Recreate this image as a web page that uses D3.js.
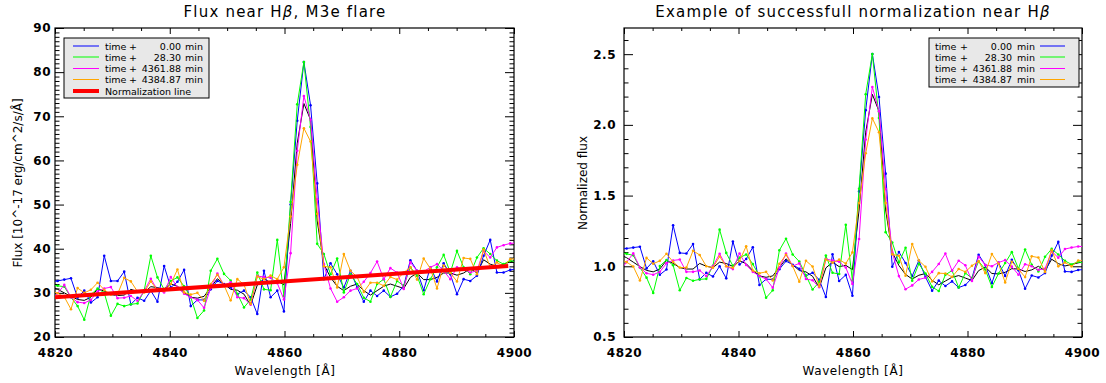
<!DOCTYPE html>
<html>
<head>
<meta charset="utf-8">
<script src="https://cdn.jsdelivr.net/npm/d3@7"></script>
<style>
  body { margin: 0; background: #fff; }
  svg text { font-family: "DejaVu Sans", sans-serif; fill: #000; }
</style>
</head>
<body>
<div id="chart"></div>
<script>
// wavelength grid of the spectra (Angstrom)
const wavelength = [
  4819.30, 4820.46, 4821.62, 4822.78, 4823.94, 4825.10, 4826.26, 4827.42, 4828.58, 4829.74,
  4830.90, 4832.06, 4833.22, 4834.38, 4835.54, 4836.70, 4837.86, 4839.02, 4840.18, 4841.34,
  4842.50, 4843.66, 4844.82, 4845.98, 4847.14, 4848.30, 4849.46, 4850.62, 4851.78, 4852.94,
  4854.10, 4855.26, 4856.42, 4857.58, 4858.74, 4859.90, 4861.06, 4862.22, 4863.38, 4864.54,
  4865.70, 4866.86, 4868.02, 4869.18, 4870.34, 4871.50, 4872.66, 4873.82, 4874.98, 4876.14,
  4877.30, 4878.46, 4879.62, 4880.78, 4881.94, 4883.10, 4884.26, 4885.42, 4886.58, 4887.74,
  4888.90, 4890.06, 4891.22, 4892.38, 4893.54, 4894.70, 4895.86, 4897.02, 4898.18, 4899.34,
  4900.50
];

// flux, 10^-17 erg/cm^2/s/A
const fluxT0 = [
  32.5, 32.7, 33.0, 33.3, 28.9, 30.5, 27.8, 29.0, 38.4, 32.7,
  32.7, 34.8, 27.4, 28.9, 28.2, 30.5, 28.0, 36.1, 31.2, 32.5,
  35.2, 27.0, 28.4, 28.4, 30.8, 32.7, 32.0, 31.2, 29.7, 30.5,
  29.0, 25.2, 35.0, 29.0, 30.5, 25.8, 50.0, 69.0, 82.3, 72.5,
  54.8, 33.1, 36.7, 34.2, 31.2, 35.0, 31.2, 28.0, 30.5, 29.3,
  30.5, 29.1, 29.8, 31.6, 37.4, 35.0, 30.6, 35.8, 32.6, 36.7,
  34.2, 29.7, 33.1, 32.7, 33.9, 38.4, 42.0, 34.6, 34.6, 35.2,
  35.4
];
const fluxT28 = [
  31.8, 31.6, 31.4, 29.0, 27.0, 23.9, 29.6, 31.0, 30.0, 24.8,
  27.5, 27.0, 27.4, 27.6, 30.5, 38.4, 33.5, 30.8, 32.7, 33.5,
  31.5, 29.0, 24.3, 26.0, 35.0, 37.7, 34.3, 32.8, 29.8, 26.7,
  28.5, 34.6, 30.8, 30.6, 42.0, 29.3, 50.6, 72.7, 82.3, 67.6,
  41.1, 38.8, 34.2, 37.8, 30.1, 34.2, 32.0, 28.9, 28.0, 32.0,
  33.1, 29.1, 32.7, 31.6, 35.8, 33.9, 29.7, 33.1, 35.8, 38.6,
  34.6, 39.5, 35.8, 34.2, 38.0, 40.1, 38.8, 37.3, 36.5, 37.3,
  37.0
];
const fluxT4361 = [
  28.1, 29.9, 31.8, 29.0, 27.9, 27.7, 28.4, 30.3, 31.0, 31.3,
  28.8, 28.9, 29.3, 28.2, 30.4, 33.2, 30.6, 30.1, 33.6, 31.2,
  29.8, 29.0, 28.4, 26.6, 31.1, 34.4, 31.7, 32.4, 29.0, 28.8,
  27.3, 33.8, 33.6, 33.4, 32.2, 28.5, 39.0, 62.2, 74.6, 69.2,
  51.2, 36.5, 31.0, 28.0, 29.0, 30.5, 31.0, 32.5, 34.5, 37.1,
  33.1, 35.6, 34.6, 30.9, 36.9, 35.0, 34.8, 35.8, 36.5, 35.0,
  33.1, 35.8, 35.4, 34.6, 35.0, 39.5, 38.0, 40.3, 40.8, 41.2,
  41.3
];
const fluxT4384 = [
  30.4, 29.9, 29.1, 26.3, 31.1, 30.0, 30.7, 32.3, 30.7, 29.6,
  29.7, 33.4, 32.6, 30.3, 30.1, 32.6, 30.6, 30.4, 32.0, 35.3,
  30.1, 29.6, 30.0, 28.2, 32.0, 34.1, 31.7, 28.3, 33.1, 31.9,
  27.5, 33.7, 33.1, 33.9, 33.1, 35.8, 47.3, 59.0, 67.3, 64.3,
  47.9, 36.0, 35.8, 31.2, 38.8, 35.0, 33.6, 30.2, 32.3, 32.3,
  31.6, 33.6, 33.0, 34.6, 35.8, 33.0, 37.8, 35.5, 31.0, 36.2,
  34.5, 32.6, 37.9, 37.7, 34.2, 39.8, 35.8, 36.9, 36.0, 37.6,
  37.8
];
// thin black reference spectrum (not in the legend)
const fluxRef = [
  31.3, 30.8, 30.0, 29.2, 28.5, 28.3, 29.0, 30.9, 30.4, 29.6,
  29.4, 29.5, 30.8, 30.3, 30.1, 31.4, 31.2, 30.7, 32.0, 31.5,
  30.1, 29.0, 28.8, 29.2, 31.2, 33.2, 32.0, 30.8, 30.6, 29.7,
  27.2, 31.8, 33.2, 32.3, 32.7, 31.8, 45.7, 63.9, 72.9, 69.2,
  46.3, 36.5, 33.5, 31.5, 30.5, 31.5, 32.0, 30.5, 29.5, 30.5,
  31.5, 32.0, 31.5, 31.0, 33.5, 34.5, 33.0, 33.0, 33.5, 34.5,
  34.5, 34.0, 34.5, 35.5, 34.5, 37.5, 36.5, 36.0, 36.5, 37.0,
  37.5
];

// normalization line end points
const normWave = [4820, 4899];
const normFlux = [29.0, 36.1];

const legendTimes = ["0.00", "28.30", "4361.88", "4384.87"];
const xTicks = [4820, 4840, 4860, 4880, 4900];
const fluxTicks = [20, 30, 40, 50, 60, 70, 80, 90];
const normTicks = [0.5, 1.0, 1.5, 2.0, 2.5];

const colors = ["#0000ff", "#00ff00", "#ff00ff", "#ffa500"];
const fluxSeries = [fluxT0, fluxT28, fluxT4361, fluxT4384];

const W = 1106, H = 383;
const svg = d3.select("#chart").append("svg")
  .attr("width", W).attr("height", H);

const plotTop = 28, plotBottom = 337;
const normLine = d3.scaleLinear().domain(normWave).range(normFlux);

function panel(id, x0, x1, yDomain, yTicks, yMinorStep, yFmt, labelGap) {
  const x = d3.scaleLinear().domain([4820, 4900]).range([x0, x1]);
  const y = d3.scaleLinear().domain(yDomain).range([plotBottom, plotTop]);
  const g = svg.append("g");

  svg.append("clipPath").attr("id", id)
    .append("rect").attr("x", x0).attr("y", plotTop)
    .attr("width", x1 - x0).attr("height", plotBottom - plotTop);

  const xMinor = d3.range(4825, 4900, 5).filter(v => v % 20 !== 0);
  const yMinor = d3.range(yDomain[0], yDomain[1], yMinorStep)
    .filter(v => !yTicks.some(t => Math.abs(t - v) < 1e-6));

  const ax = (gen, tx, ty) => {
    const a = g.append("g").attr("transform", `translate(${tx},${ty})`).call(gen);
    a.select(".domain").remove();
    a.selectAll("line").attr("stroke", "#000");
    return a;
  };

  // bottom
  ax(d3.axisBottom(x).tickValues(xTicks).tickSize(-6).tickPadding(11).tickFormat(d3.format("d")), 0, plotBottom)
    .selectAll("text").attr("font-size", 12).attr("font-weight", "bold").attr("letter-spacing", 0.5);
  ax(d3.axisBottom(x).tickValues(xMinor).tickSize(-3).tickFormat(""), 0, plotBottom);
  // top
  ax(d3.axisTop(x).tickValues(xTicks).tickSize(-6).tickFormat(""), 0, plotTop);
  ax(d3.axisTop(x).tickValues(xMinor).tickSize(-3).tickFormat(""), 0, plotTop);
  // left
  ax(d3.axisLeft(y).tickValues(yTicks).tickSize(-9).tickPadding(labelGap).tickFormat(yFmt), x0, 0)
    .selectAll("text").attr("font-size", 12).attr("font-weight", "bold").attr("letter-spacing", 0.5);
  ax(d3.axisLeft(y).tickValues(yMinor).tickSize(-4.5).tickFormat(""), x0, 0);
  // right
  ax(d3.axisRight(y).tickValues(yTicks).tickSize(-9).tickFormat(""), x1, 0);
  ax(d3.axisRight(y).tickValues(yMinor).tickSize(-4.5).tickFormat(""), x1, 0);

  g.append("rect").attr("x", x0).attr("y", plotTop)
    .attr("width", x1 - x0).attr("height", plotBottom - plotTop)
    .attr("fill", "none").attr("stroke", "#000").attr("stroke-width", 1.2);

  const plot = svg.append("g").attr("clip-path", `url(#${id})`);
  return { x, y, plot };
}

function drawSpectrum(p, values, color, dots) {
  const line = d3.line()
    .x((d, i) => p.x(wavelength[i]))
    .y(d => p.y(d));
  p.plot.append("path").datum(values)
    .attr("d", line).attr("fill", "none")
    .attr("stroke", color).attr("stroke-width", 1);
  if (dots) {
    p.plot.selectAll(null).data(values).enter().append("circle")
      .attr("cx", (d, i) => p.x(wavelength[i]))
      .attr("cy", d => p.y(d))
      .attr("r", 1.3).attr("fill", color);
  }
}

// ---------- left panel: flux ----------
const L = panel("clipL", 55, 514, [20, 90], fluxTicks, 1, d3.format("d"), 4);
drawSpectrum(L, fluxRef, "#000", false);
fluxSeries.forEach((s, i) => drawSpectrum(L, s, colors[i], true));
L.plot.append("line")
  .attr("x1", L.x(normWave[0])).attr("y1", L.y(normFlux[0]))
  .attr("x2", L.x(normWave[1])).attr("y2", L.y(normFlux[1]))
  .attr("stroke", "#ff0000").attr("stroke-width", 4);

// ---------- right panel: normalized flux ----------
const R = panel("clipR", 624, 1082, [0.5, 2.685], normTicks, 0.1, d3.format(".1f"), 8);
const normalize = s => s.map((v, i) => v / normLine(wavelength[i]));
drawSpectrum(R, normalize(fluxRef), "#000", false);
fluxSeries.forEach((s, i) => drawSpectrum(R, normalize(s), colors[i], true));

// ---------- titles ----------
function title(cx, txt) {
  const t = svg.append("text").attr("x", cx).attr("y", 17)
    .attr("text-anchor", "middle").attr("font-size", 15).attr("letter-spacing", 1.2);
  t.append("tspan").text(txt);
  t.append("tspan").attr("font-style", "italic").text("β");
  return t;
}
title(285, "Flux near H").append("tspan").text(", M3e flare");
title(853, "Example of successfull normalization near H");

svg.append("text").attr("x", 285).attr("y", 375).attr("text-anchor", "middle")
  .attr("font-size", 12).attr("letter-spacing", 0.6).text("Wavelength [Å]");
svg.append("text").attr("x", 853).attr("y", 375).attr("text-anchor", "middle")
  .attr("font-size", 12).attr("letter-spacing", 0.6).text("Wavelength [Å]");

svg.append("text").attr("transform", "translate(22,183) rotate(-90)")
  .attr("text-anchor", "middle").attr("font-size", 12)
  .text("Flux [10^-17 erg/cm^2/s/Å]");
svg.append("text").attr("transform", "translate(587,183) rotate(-90)")
  .attr("text-anchor", "middle").attr("font-size", 12)
  .text("Normalized flux");

// ---------- legends ----------
const rowY = [46, 57, 68.5, 79.5, 91];
const fs = 9.5;

// left legend
const lg = svg.append("g");
lg.append("rect").attr("x", 64).attr("y", 38).attr("width", 145).attr("height", 60)
  .attr("fill", "#e8e8e8").attr("stroke", "#000").attr("stroke-width", 1);
legendTimes.forEach((t, i) => {
  lg.append("line").attr("x1", 73).attr("x2", 99).attr("y1", rowY[i]).attr("y2", rowY[i])
    .attr("stroke", colors[i]).attr("stroke-width", 1);
  lg.append("text").attr("x", 105).attr("y", rowY[i] + 3.5).attr("font-size", fs).text("time");
  lg.append("text").attr("x", 129).attr("y", rowY[i] + 3.5).attr("font-size", fs).text("+");
  lg.append("text").attr("x", 181).attr("y", rowY[i] + 3.5).attr("font-size", fs)
    .attr("text-anchor", "end").text(t);
  lg.append("text").attr("x", 185).attr("y", rowY[i] + 3.5).attr("font-size", fs).text("min");
});
lg.append("line").attr("x1", 73).attr("x2", 99).attr("y1", rowY[4]).attr("y2", rowY[4])
  .attr("stroke", "#ff0000").attr("stroke-width", 4);
lg.append("text").attr("x", 105).attr("y", rowY[4] + 3.5).attr("font-size", fs)
  .text("Normalization line");

// right legend
const rg = svg.append("g");
rg.append("rect").attr("x", 929).attr("y", 38).attr("width", 150).attr("height", 49)
  .attr("fill", "#e8e8e8").attr("stroke", "#000").attr("stroke-width", 1);
legendTimes.forEach((t, i) => {
  rg.append("text").attr("x", 935).attr("y", rowY[i] + 3.5).attr("font-size", fs).text("time");
  rg.append("text").attr("x", 960).attr("y", rowY[i] + 3.5).attr("font-size", fs).text("+");
  rg.append("text").attr("x", 1012).attr("y", rowY[i] + 3.5).attr("font-size", fs)
    .attr("text-anchor", "end").text(t);
  rg.append("text").attr("x", 1017).attr("y", rowY[i] + 3.5).attr("font-size", fs).text("min");
  rg.append("line").attr("x1", 1040).attr("x2", 1065).attr("y1", rowY[i]).attr("y2", rowY[i])
    .attr("stroke", colors[i]).attr("stroke-width", 1);
});
</script>
</body>
</html>
